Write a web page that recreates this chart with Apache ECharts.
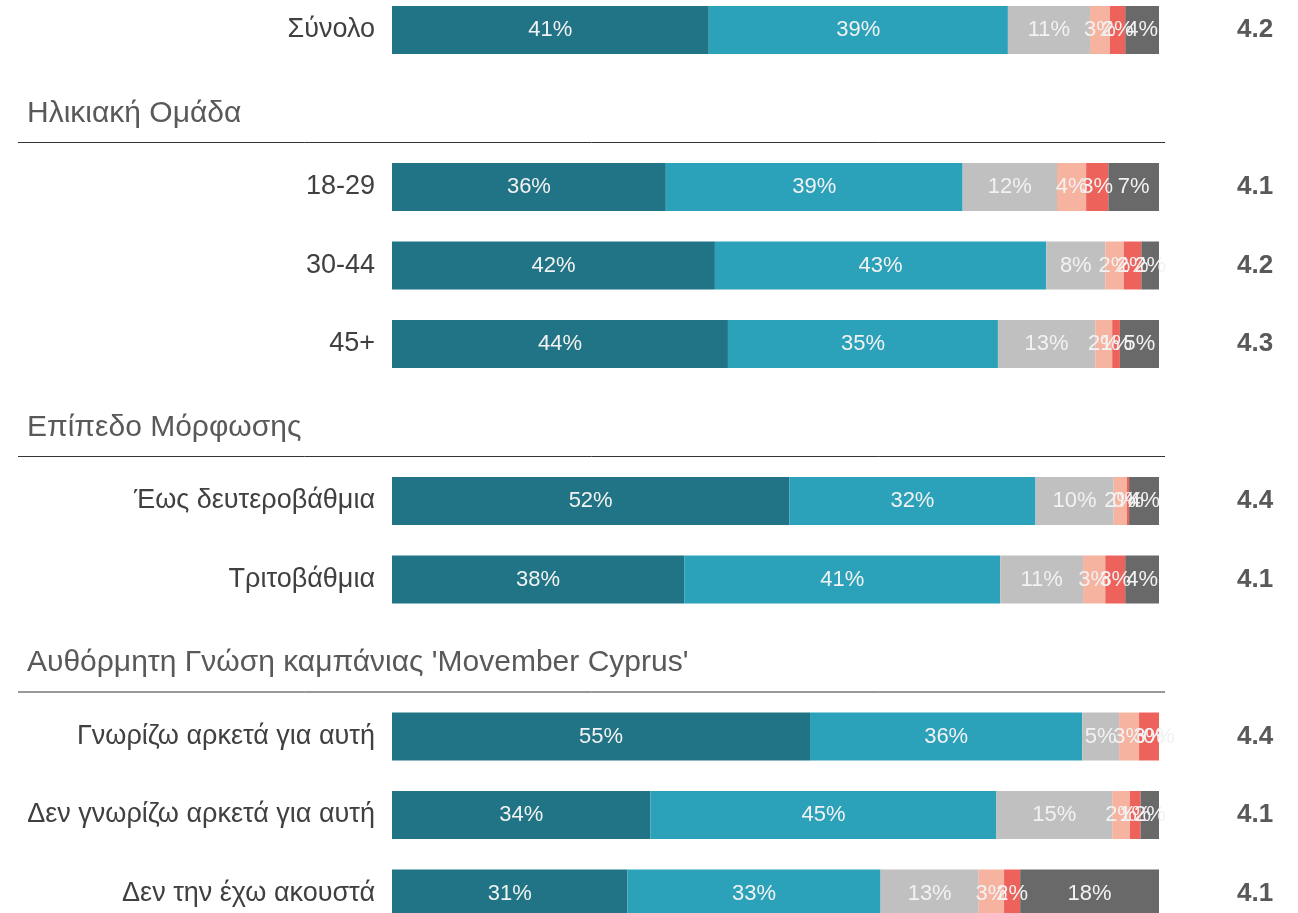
<!DOCTYPE html>
<html>
<head>
<meta charset="utf-8">
<script src="https://cdn.jsdelivr.net/npm/echarts@6/dist/echarts.min.js"></script>
<style>
  html, body { margin: 0; padding: 0; background: #ffffff; }
  #chart { width: 1298px; height: 913px; }
</style>
</head>
<body>
<div id="chart"></div>
<script>
// Row labels (section headers occupy their own slots)
const categories = [
  'Σύνολο',
  'Ηλικιακή Ομάδα',
  '18-29', '30-44', '45+',
  'Επίπεδο Μόρφωσης',
  'Έως δευτεροβάθμια', 'Τριτοβάθμια',
  "Αυθόρμητη Γνώση καμπάνιας 'Movember Cyprus'",
  'Γνωρίζω αρκετά για αυτή', 'Δεν γνωρίζω αρκετά για αυτή', 'Δεν την έχω ακουστά'
];
const headerRows = [1, 5, 8];

// Shares per answer (%), null on header slots
const s1 = [41.3, null, 35.7, 42.1, 43.8, null, 51.8, 38.1, null, 54.5, 33.7, 30.7];
const s2 = [39.0, null, 38.7, 43.2, 35.2, null, 32.1, 41.2, null, 35.5, 45.1, 33.0];
const s3 = [10.7, null, 12.3,  7.7, 12.7, null, 10.2, 10.8, null,  4.8, 15.1, 12.8];
const s4 = [ 2.6, null,  3.8,  2.4,  2.2, null,  1.7,  2.9, null,  2.6,  2.3,  3.3];
const s5 = [ 2.0, null,  2.9,  2.3,  1.0, null,  0.3,  2.6, null,  2.6,  1.4,  2.1];
const s6 = [ 4.4, null,  6.6,  2.3,  5.1, null,  3.9,  4.4, null,  0.0,  2.4, 18.1];

// Mean score shown at the right of each row
const means = ['4.2', '', '4.1', '4.2', '4.3', '', '4.4', '4.1', '', '4.4', '4.1', '4.1'];

const seriesData = [s1, s2, s3, s4, s5, s6];
const colors = ['#217485', '#2ba2ba', '#c0c0c0', '#f5b3a0', '#ee625c', '#696969'];

const FONT = '"Liberation Sans", Arial, sans-serif';

const chart = echarts.init(document.getElementById('chart'));

const series = seriesData.map((d, i) => ({
  type: 'bar',
  stack: 'total',
  barWidth: 48,
  data: d,
  itemStyle: { color: colors[i] },
  label: {
    show: true,
    position: 'inside',
    color: '#f2f2f2',
    fontFamily: FONT,
    fontSize: 22,
    formatter: p => (p.value === null || p.value === undefined) ? '' : Math.round(p.value) + '%'
  },
  emphasis: { disabled: true },
  animation: false
}));

chart.setOption({
  animation: false,
  // Category slots sit on the grid edges so the first and last rows can run close to the border
  grid: { left: 392, right: 139, top: 30, height: 863.5, containLabel: false },
  xAxis: { type: 'value', min: 0, max: 100, show: false },
  yAxis: [
    {
      type: 'category',
      data: categories,
      inverse: true,
      boundaryGap: false,
      axisLine: { show: false },
      axisTick: { show: false },
      splitLine: { show: false },
      axisLabel: {
        margin: 17,
        color: '#404040',
        fontFamily: FONT,
        fontSize: 27,
        formatter: (v, idx) => headerRows.includes(idx) ? '' : v
      }
    },
    {
      type: 'category',
      data: means,
      inverse: true,
      boundaryGap: false,
      position: 'right',
      axisLine: { show: false },
      axisTick: { show: false },
      splitLine: { show: false },
      axisLabel: {
        margin: 78,
        align: 'left',
        color: '#595959',
        fontFamily: FONT,
        fontWeight: 'bold',
        fontSize: 26
      }
    }
  ],
  series: series
});

// Section headers with a rule underneath, positioned from the category axis
const graphics = [];
headerRows.forEach(idx => {
  const y = chart.convertToPixel({ yAxisIndex: 0 }, categories[idx]);
  graphics.push({
    type: 'text',
    x: 27,
    y: y + 5,
    style: {
      text: categories[idx],
      fill: '#595959',
      font: '30px ' + FONT,
      verticalAlign: 'middle'
    }
  });
  graphics.push({
    type: 'line',
    shape: { x1: 18, y1: y + 34, x2: 1165, y2: y + 34 },
    style: { stroke: '#333333', lineWidth: 1 }
  });
});
chart.setOption({ graphic: graphics });
</script>
</body>
</html>
